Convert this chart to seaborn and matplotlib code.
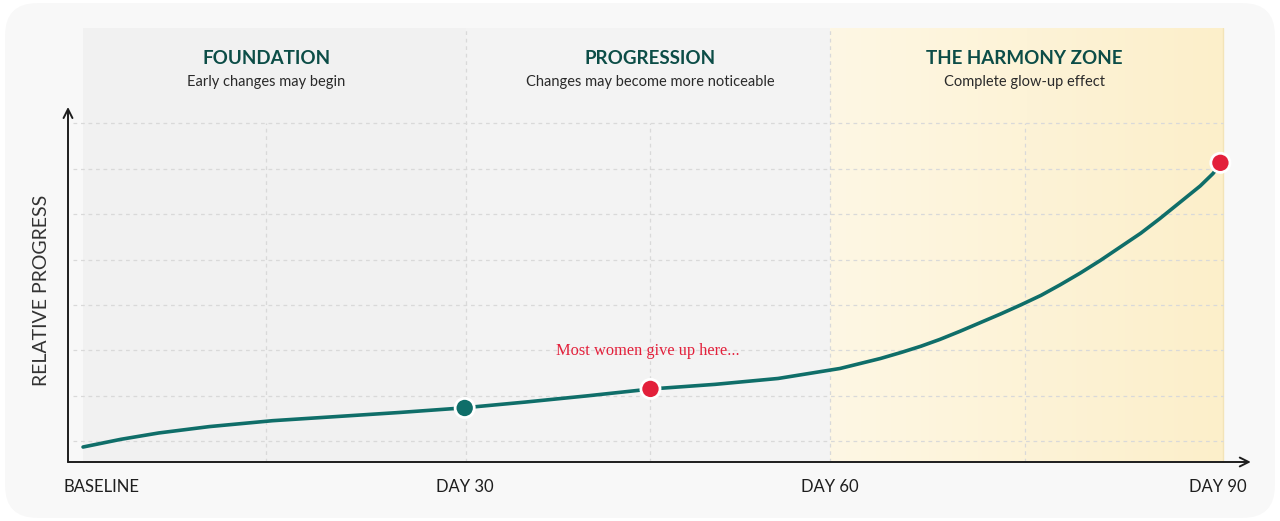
import numpy as np
import pandas as pd
import seaborn as sns
import matplotlib.pyplot as plt
from matplotlib.patches import FancyBboxPatch
from matplotlib.colors import LinearSegmentedColormap
import matplotlib.transforms as mtrans

# values (x in days, y in relative progress units)
days = [0, 3, 6, 10, 15, 20, 25, 30, 35, 40, 45, 50, 55,
        59.9, 61.5, 63.1, 64.7, 66.3, 67.8, 69.4, 71.0, 72.6, 74.2, 75.8,
        77.3, 78.9, 80.5, 82.1, 83.7, 85.2, 86.8, 88.4, 89.4, 90]
progress = [8.7, 10.4, 11.8, 13.2, 14.5, 15.4, 16.3, 17.3, 18.6, 20.0, 21.5, 22.5, 23.8,
            26.0, 27.1, 28.2, 29.5, 30.9, 32.4, 34.2, 36.1, 38.0, 40.0, 42.1,
            44.4, 47.0, 49.8, 52.8, 55.8, 59.0, 62.6, 66.2, 68.9, 71.0]

marker_days = [30.2, 44.9, 90]
marker_vals = [17.3, 21.5, 71.3]
marker_kind = ['milestone', 'warning', 'warning']

zone_edges = [0, 30.3, 59.1, 90.2]
zone_mid = [14.5, 44.9, 74.5]
zone_titles = ['FOUNDATION', 'PROGRESSION', 'THE HARMONY ZONE']
zone_subtitles = ['Early changes may begin', 'Changes may become more noticeable',
                  'Complete glow-up effect']

tick_days = [1.5, 30.2, 59.1, 89.8]
tick_labels = ['BASELINE', 'DAY 30', 'DAY 60', 'DAY 90']

TEAL = '#0f6e69'
RED = '#e3203b'
DARK_TEAL = '#0c4d47'

sns.set_theme(style='white')
plt.rcParams['font.family'] = ['Lato', 'DejaVu Sans']

fig = plt.figure(figsize=(12.8, 5.21), dpi=100)
fig.patch.set_facecolor('white')
fig.patches.append(FancyBboxPatch((0.004, 0.006), 0.992, 0.988,
                                  boxstyle='round,pad=0,rounding_size=0.025',
                                  transform=fig.transFigure, facecolor='#f8f8f8',
                                  edgecolor='none', zorder=-10, mutation_aspect=1280 / 521))

ax = fig.add_axes([68 / 1280, 59 / 521, 1184 / 1280, 434 / 521])
ax.set_facecolor('none')
ymin, ymax = 5.4, 101
ax.set_xlim(-1.19, 92.5)
ax.set_ylim(ymin, ymax)

# zone backgrounds
ax.axvspan(zone_edges[0], zone_edges[1], color='#f1f1f1', zorder=0, lw=0)
ax.axvspan(zone_edges[1], zone_edges[2], color='#f3f3f3', zorder=0, lw=0)
grad = LinearSegmentedColormap.from_list('gold', ['#fef7e4', '#fcefca'])
ax.imshow(np.linspace(0, 1, 512).reshape(1, -1), cmap=grad, aspect='auto',
          extent=[zone_edges[2], zone_edges[3], ymin, ymax], zorder=0, interpolation='bilinear')
ax.plot([zone_edges[3]] * 2, [ymin, ymax], color='#f3e4b8', lw=1, zorder=1)

# dashed grid
grid_kw = dict(color='#d9d9d9', lw=0.9, ls=(0, (3, 3)), zorder=1)
for v in range(10, 90, 10):
    ax.plot([-0.8, zone_edges[3]], [v, v], **grid_kw)
for d in zone_mid:
    ax.plot([d, d], [ymin, 80], **grid_kw)
for d in zone_edges[1:3]:
    ax.plot([d, d], [ymin, ymax], **grid_kw)

df = pd.DataFrame({'day': days, 'progress': progress})
sns.lineplot(data=df, x='day', y='progress', color=TEAL, lw=2.6, ax=ax, zorder=3)

dots = pd.DataFrame({'day': marker_days, 'progress': marker_vals, 'kind': marker_kind})
sns.scatterplot(data=dots, x='day', y='progress', hue='kind',
                palette={'milestone': TEAL, 'warning': RED}, s=190,
                edgecolor='white', linewidth=2, ax=ax, zorder=4, legend=False)

# zone headers
for cx, t, st in zip(zone_mid, zone_titles, zone_subtitles):
    ax.text(cx, 94.3, t, ha='center', va='center', fontsize=13.5, fontweight='bold',
            color=DARK_TEAL, zorder=5)
    ax.text(cx, 89.0, st, ha='center', va='center', fontsize=10.5, color='#2a2a2a', zorder=5)

ax.text(44.7, 29.9, 'Most women give up here...', ha='center', va='center', fontsize=11.8,
        color=RED, family=['Liberation Serif', 'DejaVu Serif'], zorder=5)

# axes arrows
arrow_kw = dict(arrowstyle='->', lw=1.4, color='#1e1e1e', shrinkA=0, shrinkB=0,
                mutation_scale=16)
ax.annotate('', xy=(0, 0.818), xytext=(0, 0), xycoords='axes fraction', arrowprops=arrow_kw)
ax.annotate('', xy=(0.999, 0), xytext=(0, 0), xycoords='axes fraction', arrowprops=arrow_kw)

trans = mtrans.blended_transform_factory(ax.transData, ax.transAxes)
for d, lab in zip(tick_days, tick_labels):
    ax.text(d, -0.058, lab, transform=trans, ha='center', va='center', fontsize=12,
            color='#1e1e1e')
ax.text(-0.022, 0.396, 'RELATIVE PROGRESS', transform=ax.transAxes, rotation=90,
        ha='center', va='center', fontsize=14, color='#333333')

ax.set_xlabel('')
ax.set_ylabel('')
ax.set_xticks([])
ax.set_yticks([])
for s in ax.spines.values():
    s.set_visible(False)

fig.savefig('out.png', dpi=100, facecolor=fig.get_facecolor())
